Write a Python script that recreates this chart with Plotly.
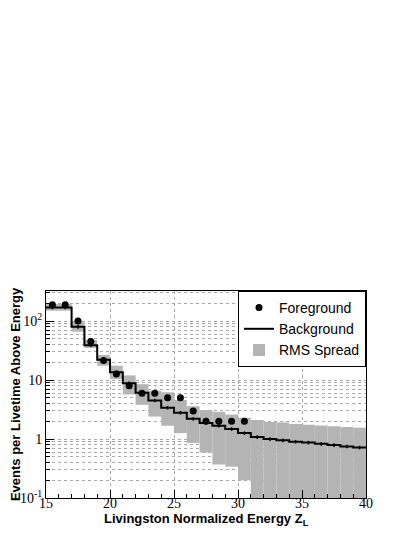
import plotly.graph_objects as go
import numpy as np

# bin edges of the energy histogram (1 unit wide)
edges = list(range(15, 41))
centers = [e + 0.5 for e in edges[:-1]]

background = [170, 170, 80, 39, 22, 13.6, 8.8, 6.1, 4.5, 3.4, 2.8, 2.2, 1.87, 1.68,
              1.48, 1.26, 1.08, 1.0, 0.95, 0.9, 0.87, 0.83, 0.79, 0.75, 0.72]
rms_upper = [195, 195, 101, 48, 26.7, 17.5, 12, 8.5, 6.6, 6.2, 4.6, 3.6, 3.1, 2.9,
             2.6, 2.3, 2.1, 1.95, 1.9, 1.8, 1.75, 1.7, 1.65, 1.6, 1.55]
rms_lower = [150, 150, 66, 35, 17.5, 10.4, 5.7, 3.8, 2.4, 1.68, 1.26, 0.86, 0.59, 0.37,
             0.34, 0.2, 0.01, 0.01, 0.01, 0.01, 0.01, 0.01, 0.01, 0.01, 0.01]

fg_x = [15.5, 16.5, 17.5, 18.5, 19.5, 20.5, 21.5, 22.5, 23.5, 24.5, 25.5, 26.5,
        27.5, 28.5, 29.5, 30.5]
foreground = [190, 190, 100, 45, 21.5, 12.7, 8.0, 6.0, 6.0, 5.0, 5.0, 3.0,
              2.0, 2.0, 2.0, 2.0]

y_tickvals = [0.1, 1, 10, 100]
y_ticktext = ["10<sup>-1</sup>", "1", "10", "10<sup>2</sup>"]

fig = go.Figure()

# RMS spread band as floating bars
fig.add_trace(go.Bar(
    x=centers, y=np.array(rms_upper) - np.array(rms_lower), base=rms_lower,
    width=1.0, marker=dict(color='#b4b4b4', line=dict(width=0)),
    name='RMS Spread'))

# background step histogram
fig.add_trace(go.Scatter(
    x=edges, y=background + [background[-1]], mode='lines', line_shape='hv',
    line=dict(color='black', width=2), name='Background'))

fig.add_trace(go.Scatter(
    x=centers, y=background, mode='markers', marker=dict(size=1, color='black'),
    error_y=dict(type='percent', value=7, color='black', thickness=1.5, width=0),
    showlegend=False, hoverinfo='skip'))

fig.add_trace(go.Scatter(
    x=fg_x, y=foreground, mode='markers',
    marker=dict(color='black', size=7), name='Foreground'))

minor_vals = [m * 10 ** d for d in range(-1, 3) for m in range(2, 10)]

fig.update_layout(
    width=415, height=537,
    margin=dict(l=38, r=57, t=283, b=47, autoexpand=False),
    paper_bgcolor='white', plot_bgcolor='white',
    barmode='overlay', showlegend=True,
    legend=dict(x=1, y=1, xanchor='right', yanchor='top',
                bordercolor='black', borderwidth=1, bgcolor='white',
                font=dict(family='Liberation Sans', size=14, color='black'),
                traceorder='reversed', tracegroupgap=0, itemwidth=30),
    font=dict(family='Liberation Serif', color='black'),
    annotations=[
        dict(text='<b>Livingston Normalized Energy Z<sub>L</sub></b>',
             xref='paper', yref='paper', x=0.5, y=-0.102, xanchor='center',
             yanchor='middle', showarrow=False,
             font=dict(family='Liberation Sans', size=13, color='black')),
        dict(text='<b>Events per Livetime Above Energy</b>',
             xref='paper', yref='paper', x=-0.095, y=0.5, xanchor='center',
             yanchor='middle', textangle=-90, showarrow=False,
             font=dict(family='Liberation Sans', size=13, color='black')),
    ],
)

fig.update_xaxes(
    range=[15, 40], showline=True, linecolor='black', linewidth=1, mirror=True,
    ticks='inside', ticklen=8, tickcolor='black', dtick=5, tick0=15,
    tickfont=dict(family='Liberation Serif', size=14), ticklabelstandoff=-8,
    showgrid=True, gridcolor='#aaaaaa', griddash='dot', gridwidth=1,
    minor=dict(dtick=1, ticks='inside', ticklen=4, tickcolor='black', showgrid=False),
    automargin=False, zeroline=False)

fig.update_yaxes(
    type='log', range=[-1, 2.51], showline=True, linecolor='black', linewidth=1,
    mirror=True, ticks='inside', ticklen=8, tickcolor='black',
    tickvals=y_tickvals, ticktext=y_ticktext,
    tickfont=dict(family='Liberation Serif', size=14),
    showgrid=True, gridcolor='#aaaaaa', griddash='dot', gridwidth=1,
    minor=dict(tickvals=minor_vals, ticks='inside', ticklen=4, tickcolor='black',
               showgrid=True, gridcolor='#aaaaaa', griddash='dot', gridwidth=1),
    automargin=False, zeroline=False)

fig.write_html("out.html")
